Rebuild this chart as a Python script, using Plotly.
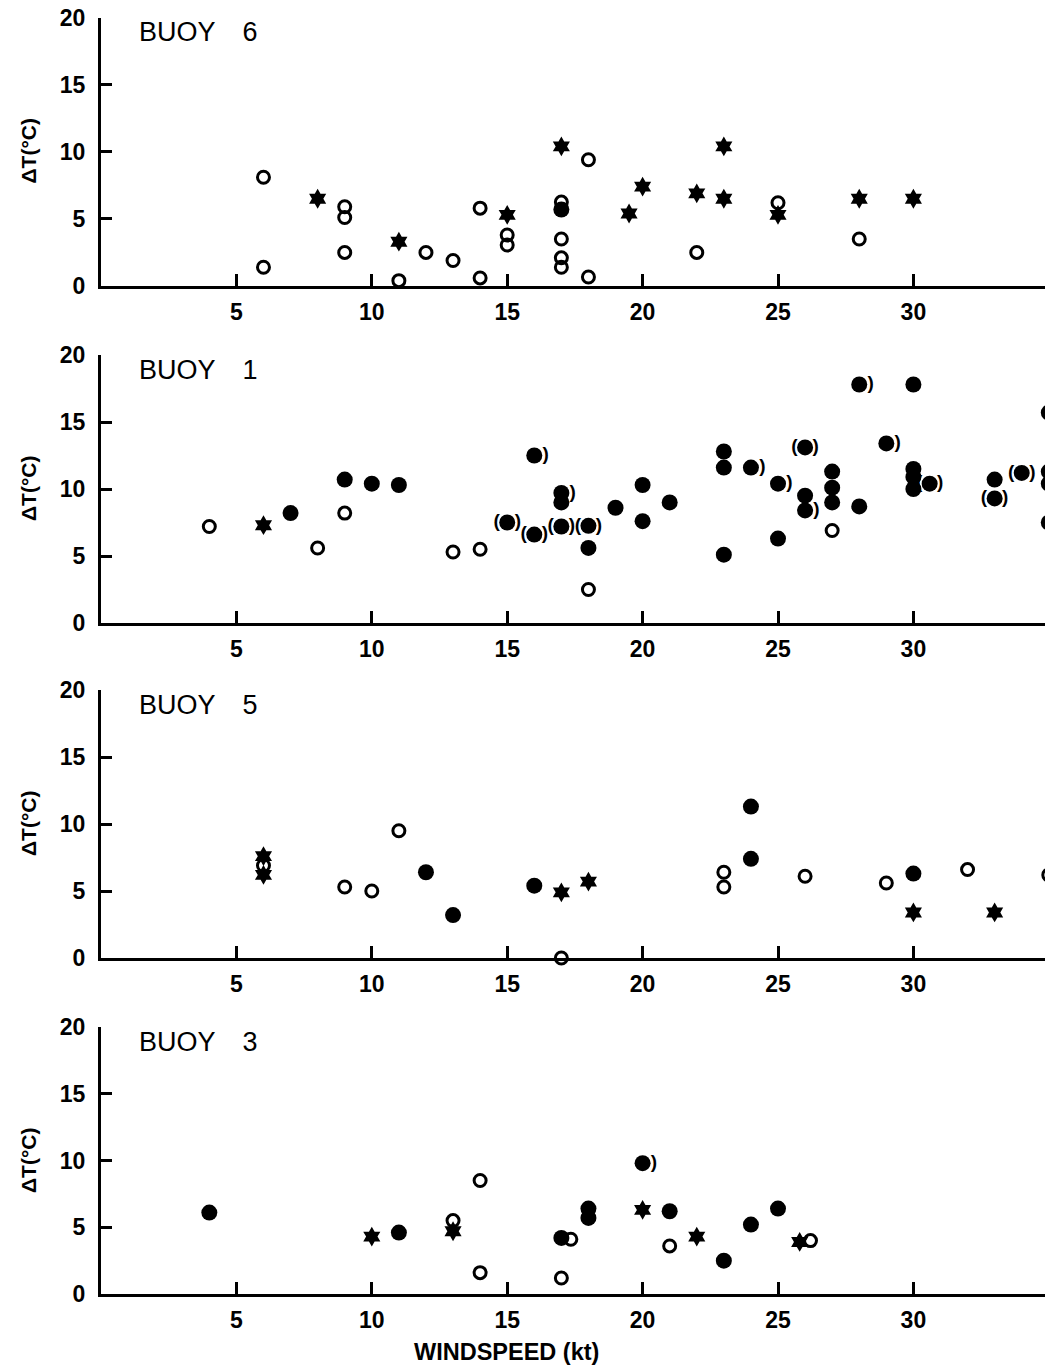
import plotly.graph_objects as go
from plotly.subplots import make_subplots

# ---------------- DATA ----------------
panel_titles = ["BUOY 6", "BUOY 1", "BUOY 5", "BUOY 3"]
x_ticks = [5, 10, 15, 20, 25, 30]
y_ticks = [0, 5, 10, 15, 20]

# BUOY 6
b6_open_x = [6, 6, 9, 9, 9, 11, 12, 13, 14, 14, 15, 15, 17, 17, 17, 17, 18, 18, 22, 25, 28]
b6_open_y = [8.1, 1.4, 5.9, 5.1, 2.5, 0.4, 2.5, 1.9, 5.8, 0.6, 3.8, 3.05, 6.25, 3.5, 2.1, 1.4, 9.4, 0.67, 2.5, 6.2, 3.5]
b6_fill_x = [17]
b6_fill_y = [5.7]
b6_star_x = [8, 11, 15, 17, 19.5, 20, 22, 23, 23, 25, 28, 30]
b6_star_y = [6.5, 3.3, 5.3, 10.4, 5.4, 7.4, 6.9, 10.4, 6.5, 5.3, 6.5, 6.5]
b6_pr_x, b6_pr_y = [], []
b6_pb_x, b6_pb_y = [], []

# BUOY 1
b1_open_x = [4, 8, 9, 13, 14, 18, 27]
b1_open_y = [7.2, 5.6, 8.2, 5.3, 5.5, 2.5, 6.9]
b1_fill_x = [7, 9, 10, 11, 17, 18, 19, 20, 20, 21, 23, 23, 23, 25, 26, 27, 27, 27, 28, 30, 30, 30, 30, 33, 35, 35, 35, 35]
b1_fill_y = [8.2, 10.7, 10.4, 10.3, 9.0, 5.6, 8.6, 10.3, 7.6, 9.0, 12.8, 11.6, 5.1, 6.3, 9.5, 11.3, 10.1, 9.0, 8.7, 17.8, 11.5, 10.9, 10.0, 10.7, 15.7, 11.3, 10.4, 7.5]
b1_star_x = [6]
b1_star_y = [7.3]
b1_pr_x = [16, 17, 24, 25, 26, 28, 29]
b1_pr_y = [12.5, 9.7, 11.6, 10.4, 8.4, 17.8, 13.4]
b1_pb_x = [15, 16, 17, 18, 26, 30.6, 33, 34]
b1_pb_y = [7.5, 6.6, 7.2, 7.25, 13.1, 10.4, 9.3, 11.2]

# BUOY 5
b5_open_x = [6, 9, 10, 11, 17, 23, 23, 26, 29, 32, 35]
b5_open_y = [6.9, 5.3, 5.0, 9.5, 0, 6.4, 5.3, 6.1, 5.6, 6.6, 6.2]
b5_fill_x = [12, 13, 16, 24, 24, 30]
b5_fill_y = [6.4, 3.2, 5.4, 11.3, 7.4, 6.3]
b5_star_x = [6, 6, 17, 18, 30, 33]
b5_star_y = [7.6, 6.2, 4.9, 5.7, 3.4, 3.4]
b5_pr_x, b5_pr_y = [], []
b5_pb_x, b5_pb_y = [], []

# BUOY 3
b3_open_x = [13, 14, 14, 17, 17.35, 21, 26.2]
b3_open_y = [5.5, 8.5, 1.6, 1.2, 4.1, 3.6, 4.0]
b3_fill_x = [4, 11, 17, 18, 18, 21, 23, 24, 25]
b3_fill_y = [6.1, 4.6, 4.2, 6.4, 5.7, 6.2, 2.5, 5.2, 6.4]
b3_star_x = [10, 13, 20, 22, 25.8]
b3_star_y = [4.3, 4.7, 6.3, 4.3, 3.9]
b3_pr_x = [20]
b3_pr_y = [9.8]
b3_pb_x, b3_pb_y = [], []

panels = [
    (b6_open_x, b6_open_y, b6_fill_x, b6_fill_y, b6_star_x, b6_star_y, b6_pr_x, b6_pr_y, b6_pb_x, b6_pb_y),
    (b1_open_x, b1_open_y, b1_fill_x, b1_fill_y, b1_star_x, b1_star_y, b1_pr_x, b1_pr_y, b1_pb_x, b1_pb_y),
    (b5_open_x, b5_open_y, b5_fill_x, b5_fill_y, b5_star_x, b5_star_y, b5_pr_x, b5_pr_y, b5_pb_x, b5_pb_y),
    (b3_open_x, b3_open_y, b3_fill_x, b3_fill_y, b3_star_x, b3_star_y, b3_pr_x, b3_pr_y, b3_pb_x, b3_pb_y),
]

# ---------------- LAYOUT CONSTANTS ----------------
W, H = 1064, 1366          # figure slightly wider than the 1045 window; overflow hidden
FONT = "Liberation Sans, Arial, sans-serif"
panel_px = [(17.5, 286), (355, 623), (690, 958), (1027, 1294)]
x_left_px = 101
px_per_unit = 27.08

fig = make_subplots(rows=4, cols=1)

open_m = dict(symbol="circle-open", size=12, color="black", line=dict(width=3, color="black"))
fill_m = dict(symbol="circle", size=16, color="black")
star_m = dict(symbol="hexagram", size=15, color="black")
paren_font = dict(family=FONT, size=19, color="black", weight=700)

for i, (ox, oy, fx, fy, sx, sy, prx, pry, pbx, pby) in enumerate(panels):
    r = i + 1
    fig.add_trace(go.Scatter(x=ox, y=oy, mode="markers", marker=open_m, cliponaxis=False), row=r, col=1)
    fig.add_trace(go.Scatter(x=fx, y=fy, mode="markers", marker=fill_m, cliponaxis=False), row=r, col=1)
    fig.add_trace(go.Scatter(x=sx, y=sy, mode="markers", marker=star_m, cliponaxis=False), row=r, col=1)
    if prx:
        fig.add_trace(go.Scatter(x=prx, y=pry, mode="markers+text", marker=fill_m,
                                 text=["\u2003\u2009)"] * len(prx), textposition="middle center",
                                 textfont=paren_font, cliponaxis=False), row=r, col=1)
    if pbx:
        fig.add_trace(go.Scatter(x=pbx, y=pby, mode="markers+text", marker=fill_m,
                                 text=["(\u2002\u2009\u200a)"] * len(pbx), textposition="middle center",
                                 textfont=paren_font, cliponaxis=False), row=r, col=1)

x_max = (W - x_left_px) / px_per_unit
tick_font = dict(family=FONT, size=23, color="black", weight=700)

annotations = []
for i in range(4):
    top, bot = panel_px[i]
    dom = [1 - bot / H, 1 - top / H]
    xa = "xaxis" if i == 0 else f"xaxis{i+1}"
    ya = "yaxis" if i == 0 else f"yaxis{i+1}"
    fig.layout[xa].update(
        domain=[x_left_px / W, 1.0], range=[0, x_max], showgrid=False, zeroline=False,
        showline=True, linewidth=3, linecolor="black",
        tickmode="array", tickvals=x_ticks, ticktext=[str(v) for v in x_ticks],
        ticks="inside", ticklen=12, tickwidth=2.5, tickcolor="black",
        tickfont=tick_font, ticklabelstandoff=3, automargin=False,
    )
    fig.layout[ya].update(
        domain=dom, range=[0, 20], showgrid=False, zeroline=False,
        showline=True, linewidth=3, linecolor="black",
        tickmode="array", tickvals=y_ticks, ticktext=[str(v) for v in y_ticks],
        ticks="inside", ticklen=11, tickwidth=2.5, tickcolor="black",
        tickfont=tick_font, ticklabelstandoff=8, automargin=False,
    )
    annotations.append(dict(
        text=panel_titles[i].replace(" ", "\u2003"), xref="paper", yref="paper",
        x=137 / W, y=1 - (top + 15) / H, xanchor="left", yanchor="middle", showarrow=False,
        font=dict(family=FONT, size=27, color="black"),
    ))
    annotations.append(dict(
        text="\u0394T(\u00b0C)", xref="paper", yref="paper",
        x=28 / W, y=1 - (top + 134) / H, xanchor="center", yanchor="middle", showarrow=False,
        textangle=-90, font=dict(family=FONT, size=21, color="black", weight=700),
    ))

annotations.append(dict(
    text="WINDSPEED (kt)", xref="paper", yref="paper",
    x=506 / W, y=1 - 1352 / H, xanchor="center", yanchor="middle", showarrow=False,
    font=dict(family=FONT, size=23.5, color="black", weight=700),
))

fig.update_layout(
    width=W, height=H, margin=dict(l=0, r=0, t=0, b=0),
    paper_bgcolor="white", plot_bgcolor="white", showlegend=False,
    annotations=annotations, font=dict(family=FONT, color="black"),
)

fig.write_html(
    "out.html",
    config={"displayModeBar": False},
    post_script="document.body.style.margin='0';document.body.style.overflow='hidden';"
                "document.documentElement.style.overflow='hidden';",
)
